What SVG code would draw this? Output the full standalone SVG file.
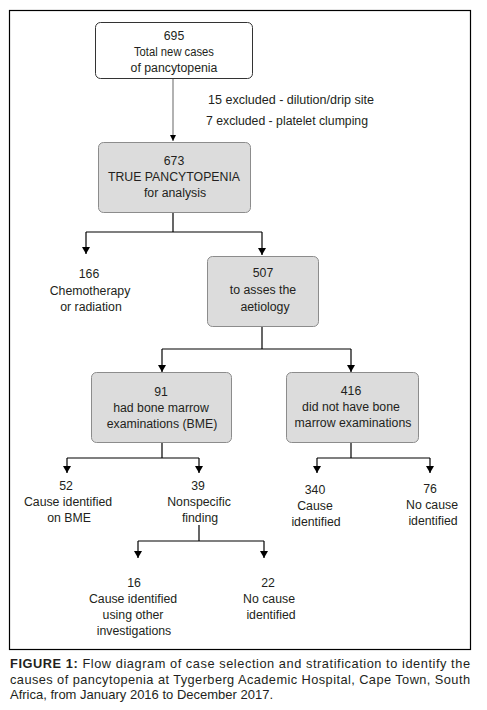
<svg xmlns="http://www.w3.org/2000/svg" width="487" height="710" viewBox="0 0 487 710">
<defs>
<style>
text{font-family:"Liberation Sans",Arial,sans-serif;font-size:12.3px;fill:#231f20;text-anchor:middle}
.l{text-anchor:start}
.box{stroke:#8c8c8c;stroke-width:1;fill:#dcdcdc}
.wb{stroke:#333;stroke-width:1;fill:#fff}
.c{stroke:#000;stroke-width:1.2;fill:none}
.cap{font-size:12.8px;fill:#231f20;text-anchor:start}
</style>
<marker id="ad" viewBox="0 0 8 7" refX="4" refY="7" markerWidth="8" markerHeight="7" markerUnits="userSpaceOnUse">
<path d="M0,0 L8,0 L4,7 Z" fill="#000"/>
</marker>
</defs>
<rect x="9.5" y="10.5" width="461" height="639" fill="#fff" stroke="#000" stroke-width="1.2"/>
<g id="connectors">
<line x1="173" y1="78" x2="173" y2="141" stroke="#999" stroke-width="1.5"/>
<path d="M170,135 L176,135 L173,141 Z" fill="#000"/>
<path class="c" d="M173,212 V232"/>
<path class="c" d="M86,232 H262"/>
<path class="c" d="M86,232 V254" marker-end="url(#ad)"/>
<path class="c" d="M262,232 V255" marker-end="url(#ad)"/>
<path class="c" d="M262,326 V349"/>
<path class="c" d="M162,349 H351"/>
<path class="c" d="M162,349 V372" marker-end="url(#ad)"/>
<path class="c" d="M351,349 V372" marker-end="url(#ad)"/>
<path class="c" d="M162,442 V458"/>
<path class="c" d="M67,458 H199"/>
<path class="c" d="M67,458 V473" marker-end="url(#ad)"/>
<path class="c" d="M199,458 V473" marker-end="url(#ad)"/>
<path class="c" d="M351,442 V458"/>
<path class="c" d="M317,458 H430"/>
<path class="c" d="M317,458 V473" marker-end="url(#ad)"/>
<path class="c" d="M430,458 V473" marker-end="url(#ad)"/>
<path class="c" d="M199,525 V541"/>
<path class="c" d="M138,541 H264"/>
<path class="c" d="M138,541 V558" marker-end="url(#ad)"/>
<path class="c" d="M264,541 V558" marker-end="url(#ad)"/>
</g>
<g id="n695">
<rect class="wb" x="95.5" y="22.5" width="157" height="56" rx="5"/>
<text x="174" y="40">695</text>
<text x="174" y="56" textLength="80" lengthAdjust="spacingAndGlyphs">Total new cases</text>
<text x="174" y="72">of pancytopenia</text>
</g>
<g id="excluded">
<text class="l" x="208" y="104" textLength="166" lengthAdjust="spacingAndGlyphs">15 excluded - dilution/drip site</text>
<text class="l" x="206" y="125" textLength="162" lengthAdjust="spacingAndGlyphs">7 excluded - platelet clumping</text>
</g>
<g id="n673">
<rect class="box" x="98.5" y="142.5" width="152" height="70" rx="5"/>
<text x="174" y="165">673</text>
<text x="174" y="181">TRUE PANCYTOPENIA</text>
<text x="175" y="197">for analysis</text>
</g>
<g id="n166">
<text x="89" y="278">166</text>
<text x="90" y="295">Chemotherapy</text>
<text x="91" y="311">or radiation</text>
</g>
<g id="n507">
<rect class="box" x="207.5" y="256.5" width="111" height="70" rx="5"/>
<text x="263" y="277">507</text>
<text x="263" y="294">to asses the</text>
<text x="265" y="311">aetiology</text>
</g>
<g id="n91">
<rect class="box" x="91.5" y="372.5" width="140" height="70" rx="5"/>
<text x="161" y="396">91</text>
<text x="161" y="412">had bone marrow</text>
<text x="162" y="428">examinations (BME)</text>
</g>
<g id="n416">
<rect class="box" x="286.5" y="372.5" width="132" height="70" rx="5"/>
<text x="351" y="395">416</text>
<text x="351" y="411">did not have bone</text>
<text x="353" y="427">marrow examinations</text>
</g>
<g id="n52">
<text x="66" y="490">52</text>
<text x="68" y="506">Cause identified</text>
<text x="69" y="522">on BME</text>
</g>
<g id="n39">
<text x="198" y="490">39</text>
<text x="199" y="506">Nonspecific</text>
<text x="200" y="522">finding</text>
</g>
<g id="n340">
<text x="315" y="494">340</text>
<text x="315" y="510">Cause</text>
<text x="316" y="526">identified</text>
</g>
<g id="n76">
<text x="430" y="493">76</text>
<text x="432" y="509">No cause</text>
<text x="433" y="525">identified</text>
</g>
<g id="n16">
<text x="134" y="587">16</text>
<text x="133" y="603">Cause identified</text>
<text x="133" y="619">using other</text>
<text x="134" y="635">investigations</text>
</g>
<g id="n22">
<text x="268" y="587">22</text>
<text x="269" y="603">No cause</text>
<text x="271" y="619">identified</text>
</g>
<g id="caption">
<text class="cap" x="10" y="668" textLength="460" lengthAdjust="spacing"><tspan font-weight="bold">FIGURE 1:</tspan> Flow diagram of case selection and stratification to identify the</text>
<text class="cap" x="10" y="684" textLength="460" lengthAdjust="spacing">causes of pancytopenia at Tygerberg Academic Hospital, Cape Town, South</text>
<text class="cap" x="10" y="699" textLength="263" lengthAdjust="spacingAndGlyphs">Africa, from January 2016 to December 2017.</text>
</g>
</svg>
